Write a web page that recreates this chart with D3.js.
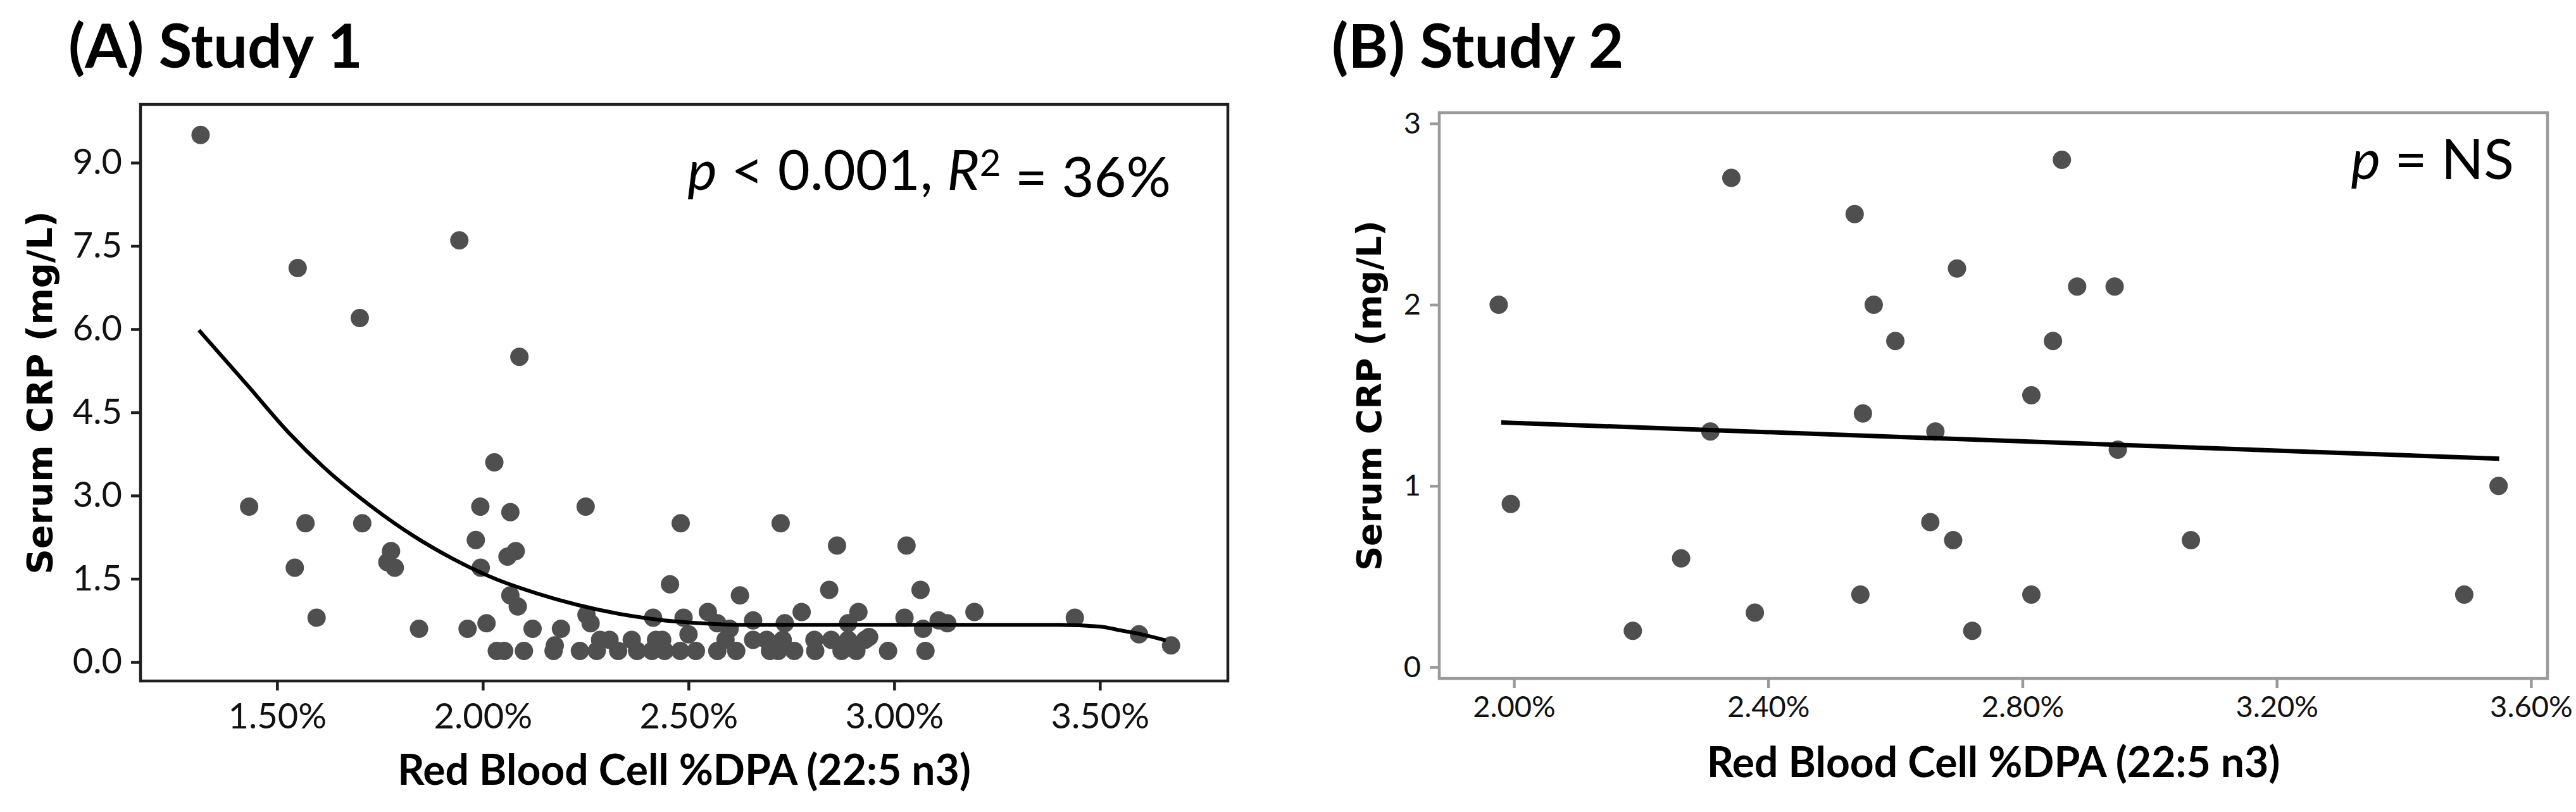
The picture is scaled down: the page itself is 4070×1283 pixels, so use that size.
<!DOCTYPE html>
<html>
<head>
<meta charset="utf-8">
<script src="https://cdn.jsdelivr.net/npm/d3@7"></script>
<style>
  body { margin: 0; background: #fff; }
  svg { display: block; }
</style>
</head>
<body>
<svg id="chart"></svg>
<script>
// ---- Study 1 (panel A): RBC %DPA vs serum CRP ----
const dpaA = [1.314, 1.943, 1.550, 1.701, 2.089, 1.432, 1.569, 1.707, 1.777, 1.768,
              1.786, 1.543, 1.596, 1.845, 1.963, 2.009, 2.028, 1.994, 2.067, 2.250,
              2.481, 1.983, 2.080, 2.060, 1.995, 2.455, 2.067, 2.085, 2.252, 2.262,
              2.414, 2.488, 2.500, 2.547, 2.570, 2.121, 2.190, 2.175,
              2.034, 2.052, 2.100, 2.172, 2.236, 2.277, 2.329, 2.375, 2.411, 2.442,
              2.480, 2.518, 2.570, 2.285, 2.308, 2.362, 2.421, 2.436,
              2.724, 2.861, 3.030, 2.625, 2.842, 3.064, 3.195, 2.775, 2.913, 3.025,
              3.108, 3.129, 3.070, 3.076, 2.985, 2.657, 2.734, 2.600, 2.888, 2.939,
              2.616, 2.698, 2.718, 2.757, 2.808, 2.872, 2.908,
              2.590, 2.657, 2.690, 2.729, 2.806, 2.847, 2.888, 2.929,
              3.439, 3.595, 3.673];
const crpA = [9.5, 7.6, 7.1, 6.2, 5.5, 2.8, 2.5, 2.5, 2.0, 1.8,
              1.7, 1.7, 0.8, 0.6, 0.6, 0.7, 3.6, 2.8, 2.7, 2.8,
              2.5, 2.2, 2.0, 1.9, 1.7, 1.4, 1.2, 1.0, 0.85, 0.7,
              0.8, 0.8, 0.5, 0.9, 0.7, 0.6, 0.6, 0.3,
              0.2, 0.2, 0.2, 0.2, 0.2, 0.2, 0.2, 0.2, 0.2, 0.2,
              0.2, 0.2, 0.2, 0.4, 0.4, 0.4, 0.4, 0.4,
              2.5, 2.1, 2.1, 1.2, 1.3, 1.3, 0.9, 0.9, 0.9, 0.8,
              0.75, 0.7, 0.6, 0.2, 0.2, 0.75, 0.7, 0.6, 0.7, 0.45,
              0.2, 0.2, 0.2, 0.2, 0.2, 0.2, 0.2,
              0.4, 0.4, 0.4, 0.4, 0.4, 0.4, 0.4, 0.4,
              0.8, 0.5, 0.3];
// fitted curve
const fitDpaA = [1.31, 1.43, 1.53, 1.63, 1.73, 1.83, 1.93, 2.03, 2.13, 2.23, 2.33, 2.43,
                 2.53, 2.63, 2.80, 3.00, 3.20, 3.40, 3.50, 3.55, 3.60, 3.66];
const fitCrpA = [5.98, 4.97, 4.12, 3.40, 2.80, 2.28, 1.85, 1.50, 1.24, 1.03, 0.87, 0.76,
                 0.70, 0.67, 0.67, 0.67, 0.67, 0.67, 0.64, 0.57, 0.50, 0.39];

// ---- Study 2 (panel B) ----
const dpaB = [1.976, 1.995, 2.187, 2.263, 2.309, 2.342, 2.379, 2.536, 2.549, 2.545,
              2.566, 2.600, 2.655, 2.663, 2.691, 2.697, 2.721, 2.814, 2.814, 2.848,
              2.862, 2.886, 2.945, 2.950, 3.065, 3.495, 3.549];
const crpB = [2.0, 0.9, 0.2, 0.6, 1.3, 2.7, 0.3, 2.5, 1.4, 0.4,
              2.0, 1.8, 0.8, 1.3, 0.7, 2.2, 0.2, 1.5, 0.4, 1.8,
              2.8, 2.1, 2.1, 1.2, 0.7, 0.4, 1.0];
const fitDpaB = [1.98, 3.55];
const fitCrpB = [1.35, 1.15];

// ticks and labels
const xTicksA = [1.5, 2.0, 2.5, 3.0, 3.5];
const yTicksA = [0, 1.5, 3.0, 4.5, 6.0, 7.5, 9.0];
const xTicksB = [2.0, 2.4, 2.8, 3.2, 3.6];
const yTicksB = [0, 1, 2, 3];
const panelTitles = ["(A) Study 1", "(B) Study 2"];
const xTitle = "Red Blood Cell %DPA (22:5 n3)";
const yTitle = "Serum CRP (mg/L)";

const W = 4070, H = 1283;
const svg = d3.select("#chart").attr("width", W).attr("height", H);

function drawPanel(opt)
{
    const x = d3.scaleLinear().domain(opt.xDomain).range(opt.xRange);
    const y = d3.scaleLinear().domain(opt.yDomain).range(opt.yRange);
    const g = svg.append("g");

    // axes (ticks outside the frame)
    const ax = g.append("g")
        .attr("transform", "translate(0," + opt.yRange[0] + ")")
        .call(d3.axisBottom(x).tickValues(opt.xTicks)
              .tickFormat(d => d3.format(".2f")(d) + "%")
              .tickSize(15).tickSizeOuter(0).tickPadding(opt.xPad));
    const ay = g.append("g")
        .attr("transform", "translate(" + opt.xRange[0] + ",0)")
        .call(d3.axisLeft(y).tickValues(opt.yTicks)
              .tickFormat(d3.format(opt.yFmt))
              .tickSize(15).tickSizeOuter(0).tickPadding(14));
    [ax, ay].forEach(a => {
        a.select(".domain").remove();
        a.selectAll(".tick line").attr("stroke", opt.frameColor).attr("stroke-width", 4.5);
        a.selectAll(".tick text")
            .attr("fill", "#111")
            .style("font-family", "Lato, sans-serif")
            .style("font-size", opt.tickFont + "px");
    });

    // frame
    g.append("rect")
        .attr("x", opt.xRange[0])
        .attr("y", opt.yRange[1])
        .attr("width", opt.xRange[1] - opt.xRange[0])
        .attr("height", opt.yRange[0] - opt.yRange[1])
        .attr("fill", "none")
        .attr("stroke", opt.frameColor)
        .attr("stroke-width", 4.5);

    // points
    const pts = opt.xs.map((d, i) => ({x: d, y: opt.ys[i]}));
    g.append("g").selectAll("circle")
        .data(pts)
        .join("circle")
        .attr("cx", d => x(d.x))
        .attr("cy", d => y(d.y))
        .attr("r", 14.5)
        .attr("fill", "#4f4f4f");

    // fitted line
    const fit = opt.fitX.map((d, i) => ({x: d, y: opt.fitY[i]}));
    g.append("path")
        .datum(fit)
        .attr("d", d3.line().x(d => x(d.x)).y(d => y(d.y)).curve(d3.curveMonotoneX))
        .attr("fill", "none")
        .attr("stroke", "#000")
        .attr("stroke-width", opt.fitWidth)
        .attr("stroke-linejoin", "round");

    // panel title
    g.append("text")
        .attr("x", opt.titleX)
        .attr("y", 107)
        .text(opt.title)
        .style("font-family", "Lato, sans-serif")
        .style("font-weight", 700)
        .style("font-size", "96px")
        .attr("fill", "#000");

    // axis titles
    g.append("text")
        .attr("x", (opt.xRange[0] + opt.xRange[1]) / 2)
        .attr("y", opt.xTitleY)
        .attr("text-anchor", "middle")
        .text(xTitle)
        .style("font-family", "Lato, sans-serif")
        .style("font-weight", 700)
        .style("font-size", "66px")
        .attr("fill", "#000");
    g.append("text")
        .attr("transform", "translate(" + opt.yTitleX + "," + (opt.yRange[0] + opt.yRange[1]) / 2 + ") rotate(-90)")
        .attr("text-anchor", "middle")
        .text(yTitle)
        .style("font-family", "'DejaVu Sans', sans-serif")
        .style("font-weight", 700)
        .style("font-size", opt.yTitleFont + "px")
        .attr("fill", "#000");

    // annotation
    const note = g.append("text")
        .attr("x", opt.noteX)
        .attr("y", opt.noteY)
        .attr("text-anchor", "end")
        .style("font-family", "Lato, sans-serif")
        .style("font-size", "88px")
        .attr("fill", "#000");
    opt.note.forEach(p => {
        const t = note.append("tspan").text(p.t);
        if (p.i) t.style("font-style", "italic");
        if (p.sup) t.attr("dy", "-0.38em").style("font-size", "58px");
        if (p.down) t.attr("dy", "0.38em");
    });
}

drawPanel({
    xs: dpaA, ys: crpA, fitX: fitDpaA, fitY: fitCrpA,
    xDomain: [1.168, 3.811], xRange: [222, 1940],
    yDomain: [-0.342, 10.05], yRange: [1076, 165],
    xTicks: xTicksA, yTicks: yTicksA, yFmt: ".1f",
    frameColor: "#1e1e1e", tickFont: 56, xPad: 20, fitWidth: 6,
    title: panelTitles[0], titleX: 108,
    xTitleY: 1240, yTitleX: 82, yTitleFont: 56,
    noteX: 1850, noteY: 300,
    note: [{t: "p", i: true}, {t: " < 0.001, "}, {t: "R", i: true},
           {t: "2", sup: true}, {t: " = 36%", down: true}]
});

drawPanel({
    xs: dpaB, ys: crpB, fitX: fitDpaB, fitY: fitCrpB,
    xDomain: [1.8825, 3.626], xRange: [2274, 4025],
    yDomain: [-0.063, 3.06], yRange: [1072, 178],
    xTicks: xTicksB, yTicks: yTicksB, yFmt: "d",
    frameColor: "#9a9a9a", tickFont: 47, xPad: 13, fitWidth: 7,
    title: panelTitles[1], titleX: 2104,
    xTitleY: 1228, yTitleX: 2182, yTitleFont: 54,
    noteX: 3972, noteY: 283,
    note: [{t: "p", i: true}, {t: " = NS"}]
});
</script>
</body>
</html>
